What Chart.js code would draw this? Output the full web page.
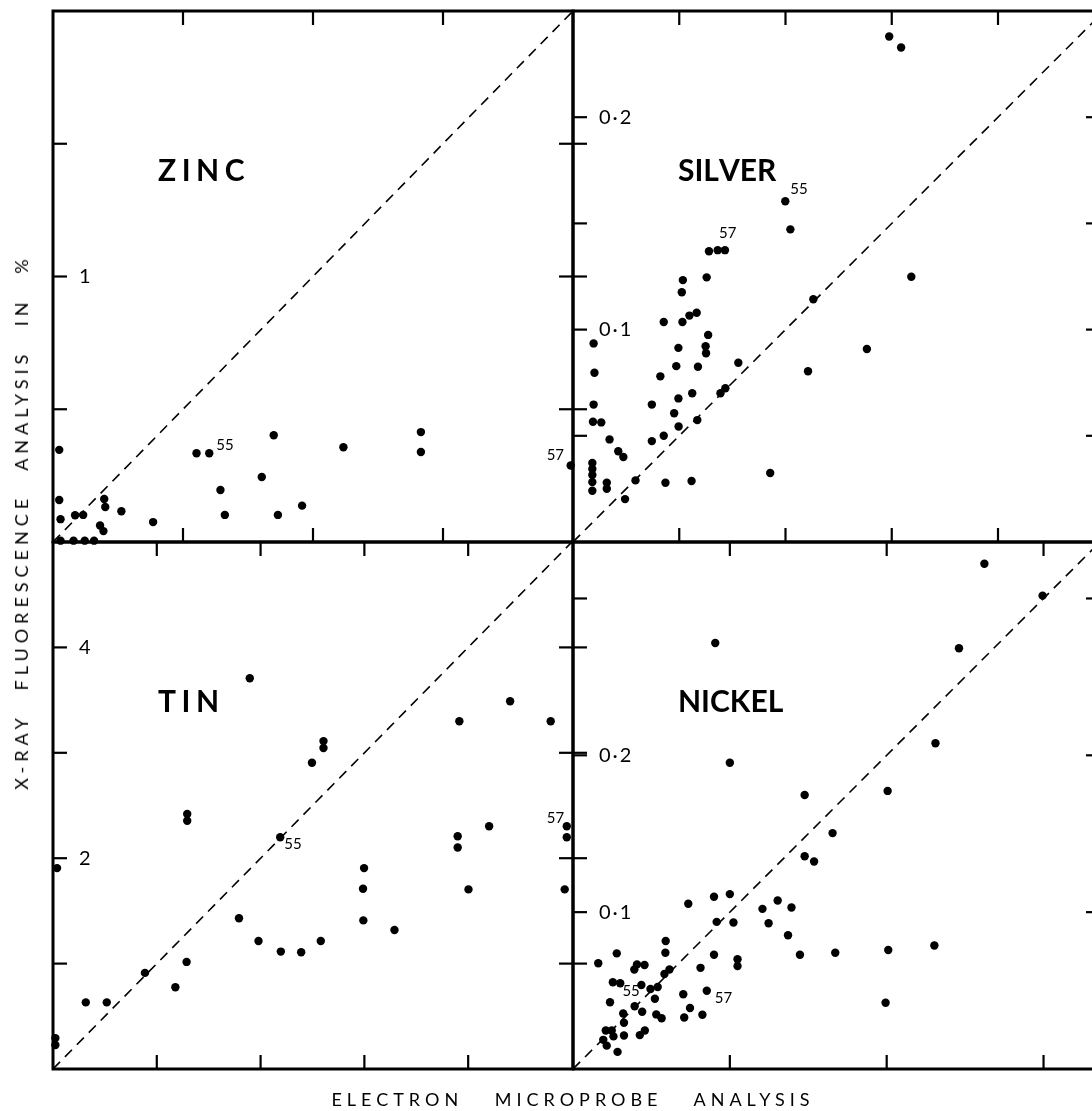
<!DOCTYPE html>
<html>
<head>
<meta charset="utf-8">
<script src="https://cdn.jsdelivr.net/npm/chart.js@4.4.1/dist/chart.umd.min.js"></script>
<style>
  html, body { margin:0; padding:0; background:#fff; }
  body { width:1092px; height:1111px; overflow:hidden; position:relative; }
  canvas { position:absolute; }
  .xt { position:absolute; left:573px; top:1088px; transform:translateX(-50%); white-space:nowrap;
        font-family:Lato, "DejaVu Sans", sans-serif; font-size:18px; letter-spacing:5px; word-spacing:22px; color:#000; }
  .yt { position:absolute; left:21px; top:522px; transform:translate(-50%,-50%) rotate(-90deg); white-space:nowrap;
        font-family:Lato, "DejaVu Sans", sans-serif; font-size:18px; letter-spacing:5px; word-spacing:14px; color:#000; }
</style>
</head>
<body>
<canvas id="cZinc"></canvas>
<canvas id="cSilver"></canvas>
<canvas id="cTin"></canvas>
<canvas id="cNickel"></canvas>
<div class="yt">X-RAY FLUORESCENCE ANALYSIS IN %</div>
<div class="xt">ELECTRON MICROPROBE ANALYSIS</div>
<script>
// ---------- DATA (electron microprobe = x, X-ray fluorescence = y, in %) ----------
const zincMicroprobe = [0.024,0.024,0.029,0.085,0.116,0.197,0.201,0.263,0.181,0.194,0.385,0.029,0.079,0.122,0.158,0.552,0.601,0.644,0.661,0.803,0.849,0.865,0.958,1.117,1.415,1.415,1.991];
const zincFluorescence = [0.347,0.158,0.086,0.101,0.102,0.162,0.132,0.116,0.062,0.041,0.075,0.005,0.005,0.005,0.005,0.334,0.334,0.196,0.102,0.245,0.402,0.102,0.137,0.357,0.414,0.339,0.288];

const silverMicroprobe = [0.1488,0.1544,0.0999,0.1023,0.0640,0.0681,0.0715,0.0629,0.0517,0.0512,0.1592,0.1131,0.0427,0.0515,0.0548,0.0582,0.0636,0.0097,0.0496,0.0624,0.0626,0.1383,0.0778,0.0486,0.0588,0.0101,0.0411,0.1106,0.0717,0.0694,0.0561,0.0496,0.0371,0.0097,0.0476,0.0094,0.0133,0.0497,0.0585,0.0172,0.0427,0.0371,0.0213,0.0237,0.0091,0.0091,0.0091,0.0091,0.0091,0.0159,0.0159,0.0294,0.0245,0.0435,0.0558,0.0928];
const silverFluorescence = [0.2380,0.2328,0.1604,0.1472,0.1369,0.1374,0.1374,0.1246,0.1233,0.1176,0.1249,0.1143,0.1036,0.1036,0.1066,0.1079,0.0975,0.0935,0.0914,0.0922,0.0889,0.0909,0.0844,0.0828,0.0825,0.0797,0.0780,0.0804,0.0724,0.0700,0.0700,0.0676,0.0647,0.0647,0.0606,0.0566,0.0563,0.0544,0.0574,0.0483,0.0500,0.0475,0.0427,0.0400,0.0372,0.0344,0.0315,0.0282,0.0241,0.0279,0.0251,0.0290,0.0202,0.0279,0.0287,0.0325];

const tinMicroprobe = [1.896,4.404,3.915,4.795,2.606,2.606,2.495,1.293,1.293,4.202,4.950,4.950,2.189,3.899,3.899,0.039,2.997,2.987,4.003,4.930,1.792,2.990,3.290,1.980,2.580,2.195,2.391,1.287,0.886,1.179,0.316,0.518,0.023,0.023];
const tinFluorescence = [3.707,3.489,3.300,3.300,3.111,3.046,2.906,2.420,2.355,2.303,2.303,2.199,2.199,2.208,2.101,1.906,1.906,1.710,1.704,1.704,1.430,1.410,1.319,1.215,1.215,1.114,1.107,1.016,0.912,0.775,0.632,0.632,0.293,0.228];

const nickelMicroprobe = [0.2623,0.2994,0.0907,0.2461,0.2311,0.1000,0.2006,0.1477,0.1655,0.1477,0.1537,0.0899,0.1000,0.0735,0.1208,0.1305,0.1393,0.0916,0.1023,0.1247,0.1371,0.0591,0.0279,0.0589,0.0899,0.1447,0.1672,0.2010,0.2304,0.1049,0.1049,0.0161,0.0408,0.0456,0.0391,0.0615,0.0583,0.0813,0.0254,0.0301,0.0436,0.0494,0.0540,0.0853,0.0703,0.0236,0.0522,0.0393,0.0746,0.0320,0.0441,0.0531,0.0565,0.0709,0.0825,0.0325,0.1993,0.0209,0.0247,0.0258,0.0325,0.0426,0.0458,0.0193,0.0215,0.0284];
const nickelFluorescence = [0.3221,0.3018,0.2716,0.2683,0.2077,0.1953,0.1773,0.1747,0.1504,0.1356,0.1323,0.1098,0.1115,0.1054,0.1021,0.1074,0.1030,0.0938,0.0934,0.0929,0.0853,0.0816,0.0737,0.0741,0.0728,0.0728,0.0741,0.0759,0.0787,0.0700,0.0656,0.0674,0.0667,0.0663,0.0634,0.0634,0.0606,0.0645,0.0553,0.0547,0.0536,0.0510,0.0523,0.0499,0.0477,0.0426,0.0448,0.0400,0.0389,0.0354,0.0365,0.0348,0.0324,0.0328,0.0346,0.0295,0.0422,0.0245,0.0245,0.0208,0.0214,0.0216,0.0245,0.0186,0.0149,0.0109];

// axis ranges [x max, y max], tick values and tick labels
const zincRange = [2.0, 2.0];      const zincTicksX = [0.5,1,1.5];            const zincTicksY = [0.5,1,1.5];
const silverRange = [0.248, 0.25]; const silverTicksX = [0.05,0.1,0.15,0.2];   const silverTicksY = [0.05,0.1,0.15,0.2];
const tinRange = [5.01, 5.0];      const tinTicksX = [1,2,3,4];                const tinTicksY = [1,2,3,4];
const nickelRange = [0.336, 0.336]; const nickelTicksX = [0.1,0.2,0.3];        const nickelTicksY = [0.1,0.2,0.3];
const zincLabelValues = [1];          const zincLabels = ['1'];
const silverLabelValues = [0.1,0.2];  const silverLabels = ['0·1','0·2'];
const tinLabelValues = [2,4];         const tinLabels = ['2','4'];
const nickelLabelValues = [0.1,0.2];  const nickelLabels = ['0·1','0·2'];
// sample numbers marked next to points: [point index, label]
const zincNotes = [[16,'55'],[26,'57']];
const silverNotes = [[2,'55'],[6,'57']];
const tinNotes = [[12,'55'],[10,'57']];
const nickelNotes = [[40,'55'],[43,'57']];
// --------------------------------------------------------------------------------

const M = 40;
const FONT = 'Lato, "DejaVu Sans", sans-serif';

function spacedText(ctx, str, x, y, sp) {
  for (const ch of str) { ctx.fillText(ch, x, y); x += ctx.measureText(ch).width + sp; }
}

const decor = {
  id: 'decor',
  afterDraw(chart, args, o) {
    const { ctx, chartArea: a, scales: { x, y } } = chart;
    const line = (x1, y1, x2, y2) => { ctx.beginPath(); ctx.moveTo(x1, y1); ctx.lineTo(x2, y2); ctx.stroke(); };
    ctx.save();
    ctx.strokeStyle = '#000'; ctx.fillStyle = '#000'; ctx.lineCap = 'butt';
    ctx.lineWidth = 3;
    ctx.strokeRect(a.left, a.top, a.right - a.left, a.bottom - a.top);
    ctx.lineWidth = 2.2;
    const L = 14;
    o.ticksX.forEach(v => {
      const px = x.getPixelForValue(v);
      line(px, a.top, px, a.top + L);
      line(px, a.bottom, px, a.bottom - L);
    });
    o.ticksY.forEach(v => {
      const py = y.getPixelForValue(v);
      line(a.left, py, a.left + L, py);
      line(a.right - L, py, a.right + (o.cross ? L : 0), py);
    });
    // tick labels inside the frame
    ctx.font = '20px ' + FONT; ctx.textBaseline = 'middle'; ctx.textAlign = 'left';
    o.labelValues.forEach((v, i) => spacedText(ctx, o.labels[i], a.left + 26, y.getPixelForValue(v), 2));
    // panel title
    ctx.font = 'bold 30px ' + FONT; ctx.textBaseline = 'alphabetic';
    spacedText(ctx, o.title, a.left + 105, a.top + 170, o.spacing);
    // sample notes
    ctx.font = '15px ' + FONT;
    const ds = chart.data.datasets[1].data;
    o.notes.forEach(([i, t], k) => {
      const p = ds[i]; const off = o.noteOffsets[k];
      ctx.fillText(t, x.getPixelForValue(p.x) + off[0], y.getPixelForValue(p.y) + off[1]);
    });
    ctx.restore();
  }
};

function makePanel(id, left, top, w, h, xs, ys, range, ticksX, ticksY, labelValues, labels, title, spacing, notes, noteOffsets, cross) {
  const cv = document.getElementById(id);
  cv.width = w + 2 * M; cv.height = h + 2 * M;
  cv.style.left = (left - M) + 'px'; cv.style.top = (top - M) + 'px';
  cv.style.width = cv.width + 'px'; cv.style.height = cv.height + 'px';
  const pts = xs.map((v, i) => ({ x: v, y: ys[i] }));
  const dmax = Math.max(range[0], range[1]);
  return new Chart(cv, {
    type: 'scatter',
    data: {
      datasets: [
        { type: 'line', data: [{ x: 0, y: 0 }, { x: dmax, y: dmax }], borderColor: '#000', borderWidth: 1.6,
          borderDash: [10, 7], pointRadius: 0, fill: false, tension: 0 },
        { data: pts, backgroundColor: '#000', borderColor: '#000', pointRadius: 4.2, pointHoverRadius: 4.2,
          borderWidth: 0, clip: 10 }
      ]
    },
    options: {
      responsive: false, animation: false, devicePixelRatio: 1,
      layout: { padding: M },
      scales: {
        x: { type: 'linear', min: 0, max: range[0], display: false },
        y: { type: 'linear', min: 0, max: range[1], display: false }
      },
      plugins: {
        legend: { display: false }, tooltip: { enabled: false },
        decor: { ticksX, ticksY, labelValues, labels, title, spacing, notes, noteOffsets, cross }
      },
      events: []
    },
    plugins: [decor]
  });
}

makePanel('cZinc', 53, 11, 520, 531, zincMicroprobe, zincFluorescence, zincRange, zincTicksX, zincTicksY,
  zincLabelValues, zincLabels, 'ZINC', 5.5, zincNotes, [[7, -3], [-24, -6]], true);
makePanel('cSilver', 573, 11, 527, 531, silverMicroprobe, silverFluorescence, silverRange, silverTicksX, silverTicksY,
  silverLabelValues, silverLabels, 'SILVER', 0, silverNotes, [[5, -7], [-6, -12]], false);
makePanel('cTin', 53, 542, 520, 527, tinMicroprobe, tinFluorescence, tinRange, tinTicksX, tinTicksY,
  tinLabelValues, tinLabels, 'TIN', 5.5, tinNotes, [[4, 12], [-20, -3]], true);
makePanel('cNickel', 573, 542, 527, 527, nickelMicroprobe, nickelFluorescence, nickelRange, nickelTicksX, nickelTicksY,
  nickelLabelValues, nickelLabels, 'NICKEL', 0, nickelNotes, [[-19, 11], [8, 12]], false);
</script>
</body>
</html>
